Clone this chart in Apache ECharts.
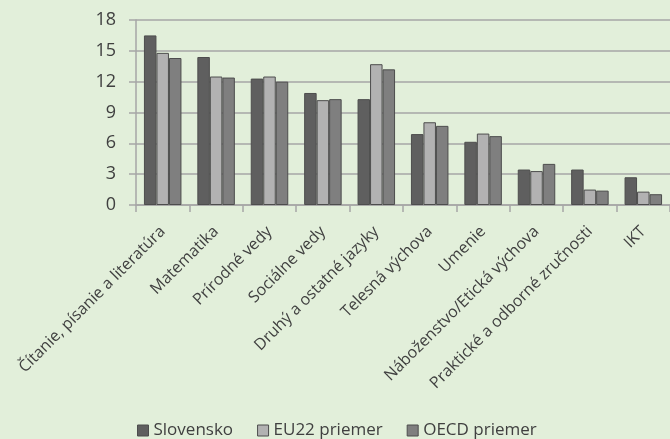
<!DOCTYPE html>
<html>
<head>
<meta charset="utf-8">
<script src="https://cdn.jsdelivr.net/npm/echarts@6/dist/echarts.min.js"></script>
<style>
html,body{margin:0;padding:0;background:#e2efda;}
#c{width:670px;height:439px;}
</style>
</head>
<body>
<div id="c"></div>
<script>
const categories = ["Čítanie, písanie a literatúra","Matematika","Prírodné vedy","Sociálne vedy","Druhý a ostatné jazyky","Telesná výchova","Umenie","Náboženstvo/Etická výchova","Praktické a odborné zručnosti","IKT"];
const slovensko = [16.5,14.4,12.3,10.9,10.3,6.9,6.15,3.45,3.45,2.7];
const eu22 = [14.8,12.5,12.5,10.2,13.7,8.05,6.95,3.3,1.5,1.3];
const oecd = [14.3,12.4,12.0,10.3,13.2,7.7,6.7,4.0,1.4,1.05];
const yTicks = [0,3,6,9,12,15,18];

const font = "'Open Sans', 'Noto Sans', sans-serif";
const chart = echarts.init(document.getElementById('c'));
const mk = (name, data, color) => ({
  name, type:'bar', data, barWidth:12.5, barGap:'0%',
  itemStyle:{color, borderColor:'#4d4d4d', borderWidth:1},
  animation:false
});
chart.setOption({
  backgroundColor:'#e2efda',
  animation:false,
  grid:{left:136, top:20, bottom:234, right:-10, containLabel:false},
  legend:{
    bottom:-5, left:132, itemWidth:11, itemHeight:11, itemGap:24,
    icon:'rect',
    textStyle:{fontFamily:font, fontSize:17, color:'#404040'},
    itemStyle:{borderColor:'#4d4d4d', borderWidth:1}
  },
  xAxis:{
    type:'category', data:categories,
    axisLine:{lineStyle:{color:'#a6a6a6', width:1.5}},
    axisTick:{show:true, length:7, lineStyle:{color:'#a6a6a6', width:1.5}},
    axisLabel:{rotate:45, interval:0, fontFamily:font, fontSize:16, color:'#404040', margin:24}
  },
  yAxis:{
    type:'value', min:0, max:18, interval:3,
    axisLine:{show:true, lineStyle:{color:'#a6a6a6', width:1.5}},
    axisTick:{show:true, length:7, inside:false, lineStyle:{color:'#a6a6a6', width:1.5}},
    splitLine:{lineStyle:{color:'#a6a6a6', width:1.5}},
    axisLabel:{fontFamily:font, fontSize:18, color:'#404040', margin:20,
      formatter: v => yTicks.includes(v) ? String(v) : ''}
  },
  series:[
    mk('Slovensko', slovensko, '#5f5f5f'),
    mk('EU22 priemer', eu22, '#b2b2b2'),
    mk('OECD priemer', oecd, '#7f7f7f')
  ]
});
</script>
</body>
</html>
